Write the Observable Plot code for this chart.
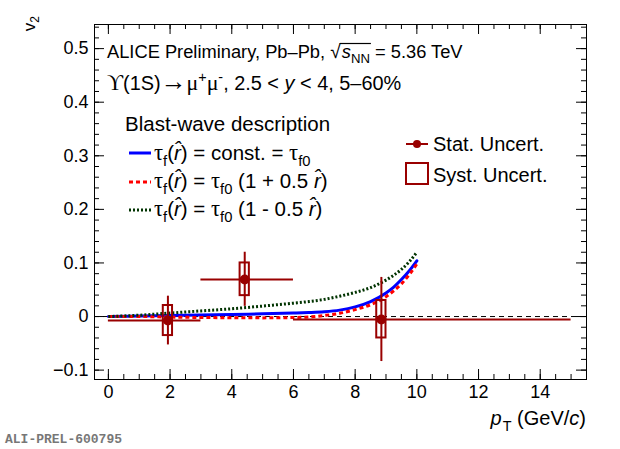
<!DOCTYPE html>
<html><head><meta charset="utf-8">
<script src="https://cdn.jsdelivr.net/npm/d3@7"></script>
<script src="https://cdn.jsdelivr.net/npm/@observablehq/plot@0.6"></script>
<style>
body{margin:0;background:#fff}
svg text{white-space:pre}
</style>
</head><body><div id="chart"></div>
<script>
// ---- data points (pT bins) ----
const ptCenter = [1.93, 4.42, 8.85];
const ptLow    = [0, 3, 6];
const ptHigh   = [3, 6, 15];
const v2       = [-0.0075, 0.069, -0.0056];
const statLow  = [-0.053, 0.019, -0.084];
const statHigh = [0.038, 0.120, 0.073];
const systLow  = [-0.0355, 0.039, -0.040];
const systHigh = [0.0206, 0.100, 0.030];

// ---- blast-wave curves ----
const curvePt   = [0, 1, 2, 3, 4, 5, 6, 6.5, 7, 7.5, 8, 8.5, 9, 9.25, 9.5, 9.75, 10];
const v2Const   = [0, 0.001, 0.002, 0.003, 0.004, 0.005, 0.0065, 0.0075, 0.009, 0.012, 0.018, 0.028, 0.044, 0.055, 0.069, 0.085, 0.104];
const v2Plus    = [0, 0, -0.001, -0.0018, -0.0022, -0.0025, -0.0018, -0.0008, 0.002, 0.006, 0.013, 0.022, 0.037, 0.048, 0.061, 0.078, 0.098];
const v2Minus   = [0, 0.0025, 0.0065, 0.0105, 0.0145, 0.0195, 0.025, 0.028, 0.032, 0.038, 0.045, 0.054, 0.068, 0.077, 0.088, 0.102, 0.120];

// ---- ticks ----
const xMajor = [0, 2, 4, 6, 8, 10, 12, 14];
const xMinor = d3.range(0, 15.51, 0.5);
const yMajor = [-0.1, 0, 0.1, 0.2, 0.3, 0.4, 0.5];
const yMinor = d3.range(-0.1, 0.541, 0.02);

const W = 620, H = 449, mL = 94, mR = 34, mT = 24, mB = 70;
const iW = W - mL - mR, iH = H - mT - mB;
const dark = "#990000";
const idx = d3.range(ptCenter.length);
const curves = curvePt.map((p, i) => ({p, c: v2Const[i], pl: v2Plus[i], mi: v2Minus[i]}));

const plot = Plot.plot({
  width: W, height: H,
  marginLeft: mL, marginRight: mR, marginTop: mT, marginBottom: mB,
  style: {fontFamily: "'Liberation Sans', Arial, sans-serif", fontSize: "18px", color: "#000", background: "#fff"},
  x: {domain: [-0.45, 15.5]},
  y: {domain: [-0.1175, 0.545]},
  marks: [
    Plot.axisX({ticks: xMajor, tickSize: 0, tickPadding: 6, tickFormat: d => String(d), label: null, fontSize: 18}),
    Plot.axisY({ticks: yMajor, tickSize: 0, tickPadding: 6, label: null, fontSize: 18,
      tickFormat: d => Math.abs(d) < 1e-9 ? "0" : (d < 0 ? "\u2212" : "") + Math.abs(d).toFixed(1)}),
    Plot.ruleY([0], {stroke: "#000", strokeWidth: 1, strokeDasharray: "5,4"}),
    Plot.line(curves, {x: "p", y: "c", stroke: "#0000ff", strokeWidth: 3, curve: "monotone-x"}),
    Plot.line(curves, {x: "p", y: "pl", stroke: "#ff0000", strokeWidth: 3, strokeDasharray: "4,3", strokeLinecap: "butt", curve: "monotone-x"}),
    Plot.line(curves, {x: "p", y: "mi", stroke: "#003300", strokeWidth: 3, strokeDasharray: "2,2", strokeLinecap: "butt", curve: "monotone-x"}),
    Plot.rect(idx, {x1: i => ptCenter[i] - 0.15, x2: i => ptCenter[i] + 0.15, y1: i => systLow[i], y2: i => systHigh[i],
      fill: "none", stroke: dark, strokeWidth: 2}),
    Plot.ruleY(idx, {y: i => v2[i], x1: i => ptLow[i], x2: i => ptHigh[i], stroke: dark, strokeWidth: 2}),
    Plot.ruleX(idx, {x: i => ptCenter[i], y1: i => statLow[i], y2: i => statHigh[i], stroke: dark, strokeWidth: 2}),
    Plot.dot(idx, {x: i => ptCenter[i], y: i => v2[i], r: 5, fill: dark, stroke: "none"}),
    // ROOT style inward ticks on all four sides
    Plot.tickX(xMajor, {x: d => d, insetTop: iH - 10, stroke: "#000"}),
    Plot.tickX(xMajor, {x: d => d, insetBottom: iH - 10, stroke: "#000"}),
    Plot.tickX(xMinor, {x: d => d, insetTop: iH - 5, stroke: "#000"}),
    Plot.tickX(xMinor, {x: d => d, insetBottom: iH - 5, stroke: "#000"}),
    Plot.tickY(yMajor, {y: d => d, insetRight: iW - 10, stroke: "#000"}),
    Plot.tickY(yMajor, {y: d => d, insetLeft: iW - 10, stroke: "#000"}),
    Plot.tickY(yMinor, {y: d => d, insetRight: iW - 5, stroke: "#000"}),
    Plot.tickY(yMinor, {y: d => d, insetLeft: iW - 5, stroke: "#000"}),
    Plot.frame({stroke: "#000", strokeWidth: 1})
  ]
});
document.getElementById("chart").appendChild(plot);

const svg = d3.select(plot);
const g = svg.append("g").attr("fill", "#000").attr("text-anchor", "start");
const SANS = "'Liberation Sans', Arial, sans-serif";
const SERIF = "'Liberation Serif', 'Times New Roman', serif";

function rich(x, y, segs, size, anchor) {
  const grp = g.append("g");
  let cx = x;
  for (const s of segs) {
    const small = s.sub || s.sup;
    const fs = small ? size * 0.72 : size * (s.scale || 1);
    const t = grp.append("text")
      .attr("text-anchor", "start")
      .attr("x", cx + (s.dx || 0))
      .attr("y", y + (s.sub ? size * 0.3 : s.sup ? -size * 0.38 : 0))
      .attr("font-size", fs)
      .attr("font-family", s.serif ? SERIF : SANS)
      .text(s.t);
    if (s.italic) t.attr("font-style", "italic");
    const w = t.node().getComputedTextLength();
    s.x0 = cx; s.x1 = cx + w + (s.dx || 0);
    cx += w + (s.dx || 0);
  }
  if (anchor === "end") grp.attr("transform", `translate(${x - cx},0)`);
  return segs;
}

// header
const h1 = rich(107, 58, [
  {t: "ALICE Preliminary, Pb\u2013Pb, "},
  {t: "\u221A", scale: 1.05},
  {t: "s", italic: true, dx: 1},
  {t: "NN", sub: true},
  {t: " = 5.36 TeV"}
], 18.3);
// overline of square root
g.append("line").attr("x1", h1[1].x1 - 1).attr("x2", h1[3].x1 + 1)
  .attr("y1", 58 - 14.5).attr("y2", 58 - 14.5).attr("stroke", "#000").attr("stroke-width", 1.2);

rich(107, 90, [
  {t: "\u03D2", serif: true, scale: 1.12},
  {t: "(1S)"},
  {t: "\u2192", serif: true, scale: 1.3},
  {t: "\u03BC", serif: true, scale: 1.1},
  {t: "+", sup: true},
  {t: "\u03BC", serif: true, scale: 1.1},
  {t: "-", sup: true},
  {t: ", 2.5 < "},
  {t: "y", italic: true},
  {t: " < 4, 5\u201360%"}
], 19.9);

rich(125, 131, [{t: "Blast-wave description"}], 20.5);

function tauLine(y, rest) {
  return rich(154, y, [
    {t: "\u03C4", serif: true, scale: 1.1},
    {t: "f", sub: true},
    {t: "("},
    {t: "r\u0302", italic: true},
    {t: ") = "},
  ].concat(rest), 20.5);
}
tauLine(160, [{t: "const. = "}, {t: "\u03C4", serif: true, scale: 1.1}, {t: "f0", sub: true}]);
tauLine(188, [{t: "\u03C4", serif: true, scale: 1.1}, {t: "f0", sub: true}, {t: " (1 + 0.5 "}, {t: "r\u0302", italic: true}, {t: ")"}]);
tauLine(216, [{t: "\u03C4", serif: true, scale: 1.1}, {t: "f0", sub: true}, {t: " (1 - 0.5 "}, {t: "r\u0302", italic: true}, {t: ")"}]);

// legend line samples
const ls = [
  {y: 153, stroke: "#0000ff", dash: null},
  {y: 182, stroke: "#ff0000", dash: "4,3"},
  {y: 210, stroke: "#003300", dash: "2,2"}
];
for (const l of ls) {
  const ln = g.append("line").attr("x1", 129).attr("x2", 151).attr("y1", l.y).attr("y2", l.y)
    .attr("stroke", l.stroke).attr("stroke-width", 3);
  if (l.dash) ln.attr("stroke-dasharray", l.dash);
}

// right legend
g.append("line").attr("x1", 406).attr("x2", 428).attr("y1", 144).attr("y2", 144).attr("stroke", dark).attr("stroke-width", 2);
g.append("circle").attr("cx", 417).attr("cy", 144).attr("r", 4).attr("fill", dark);
g.append("rect").attr("x", 406).attr("y", 163).attr("width", 22).attr("height", 21)
  .attr("fill", "none").attr("stroke", dark).attr("stroke-width", 2);
rich(433, 151, [{t: "Stat. Uncert."}], 20);
rich(433, 182, [{t: "Syst. Uncert."}], 20);

// axis titles
rich(586, 425, [{t: "p", italic: true}, {t: "T", sub: true, dx: 1}, {t: " (GeV/"}, {t: "c", italic: true}, {t: ")"}], 20, "end");
const yt = g.append("g").attr("transform", "translate(35,16) rotate(-90)");
const ytText = yt.append("text").attr("text-anchor", "end").attr("font-family", SANS).attr("font-size", 17);
ytText.append("tspan").text("v");
ytText.append("tspan").attr("font-size", 12).attr("dy", 4).text("2");

// footer id
g.append("text").attr("x", 5).attr("y", 443).attr("font-family", "'Liberation Mono', 'Courier New', monospace")
  .attr("font-weight", "bold").attr("font-size", 13).attr("fill", "#777").text("ALI-PREL-600795");
</script>
</body></html>
